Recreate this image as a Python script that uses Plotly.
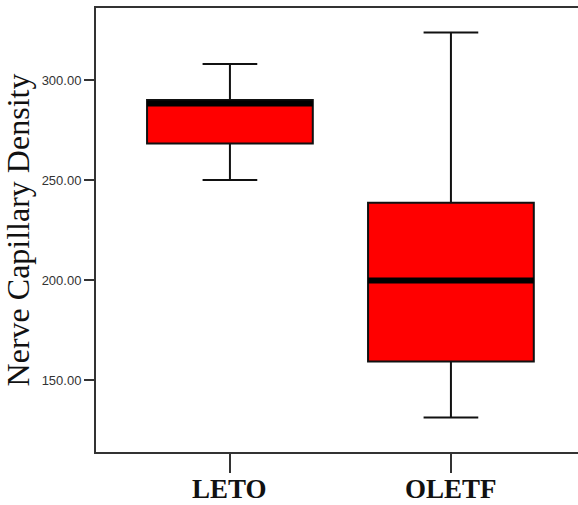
import plotly.graph_objects as go

groups = ["LETO", "OLETF"]
lower_whisker = [250.0, 131.3]
q1_vals = [268.3, 159.2]
median_vals = [288.3, 199.7]
q3_vals = [290.0, 238.6]
upper_whisker = [308.0, 323.8]
y_ticks = [150, 200, 250, 300]
y_tick_labels = ["150.00", "200.00", "250.00", "300.00"]

box_w = 0.75
pos = list(range(len(groups)))

fig = go.Figure()
fig.add_trace(go.Box(
    x=pos, q1=q1_vals, median=median_vals, q3=q3_vals,
    lowerfence=lower_whisker, upperfence=upper_whisker,
    width=box_w, whiskerwidth=0.33,
    fillcolor="#ff0000", line=dict(color="#111111", width=2),
    boxpoints=False, showlegend=False, hoverinfo="skip",
))
for i, m in zip(pos, median_vals):
    fig.add_trace(go.Scatter(
        x=[i - box_w / 2, i + box_w / 2], y=[m, m], mode="lines",
        line=dict(color="#000000", width=6), showlegend=False, hoverinfo="skip",
    ))

# category labels as annotations (to sit close under the long ticks)
for i, g in zip(pos, groups):
    fig.add_annotation(
        x=i, xref="x", y=0, yref="paper", yanchor="top", yshift=-20,
        text=g, showarrow=False,
        font=dict(family="Liberation Serif", size=27, color="#111111", weight="bold"),
    )

fig.update_layout(
    width=578, height=505,
    margin=dict(l=96, r=0, t=8, b=53),
    paper_bgcolor="white", plot_bgcolor="white",
    xaxis=dict(
        range=[-0.606, 1.575], tickvals=pos, ticktext=groups,
        showticklabels=False, automargin=False,
        showgrid=False, zeroline=False,
        showline=True, linecolor="#333333", linewidth=2, mirror=True,
        ticks="outside", ticklen=19, tickwidth=1.5, tickcolor="#333333",
    ),
    yaxis=dict(
        range=[114, 336], tickvals=y_ticks, ticktext=y_tick_labels,
        automargin=False,
        showgrid=False, zeroline=False,
        showline=True, linecolor="#333333", linewidth=2,
        ticks="outside", ticklen=10, tickwidth=1.5, tickcolor="#333333",
        tickfont=dict(family="Liberation Sans", size=13, color="#333333"),
        title=dict(text="Nerve Capillary Density",
                   font=dict(family="Liberation Serif", size=32, color="#111111"),
                   standoff=2),
    ),
)
fig.write_html("out.html")
